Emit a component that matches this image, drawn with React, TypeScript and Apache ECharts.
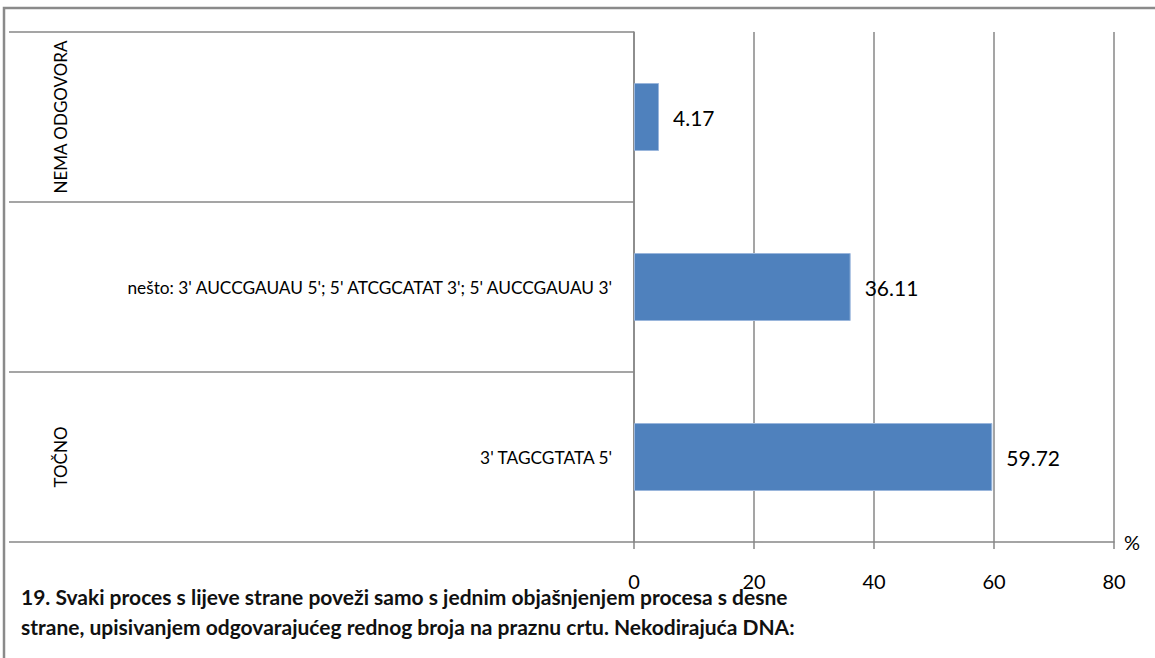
import React, { useEffect, useRef } from "react";
import * as echarts from "echarts";

const outerCategories = ["TOČNO", "KONCEPTUALNO\nNERAZUMIJEVANJE", "NEMA ODGOVORA"];
const innerLabels = ["3' TAGCGTATA 5'", "nešto: 3' AUCCGAUAU 5'; 5' ATCGCATAT 3'; 5' AUCCGAUAU 3'", ""];
const values = [59.72, 36.11, 4.17];
const xTicks = { min: 0, max: 80, interval: 20 };
const axisUnit = "%";
const footerLines = [
  "19. Svaki proces s lijeve strane poveži samo s jednim objašnjenjem procesa s desne",
  "strane, upisivanjem odgovarajućeg rednog broja na praznu crtu. Nekodirajuća DNA:",
];

const FONT = "Lato, 'Open Sans', sans-serif";
const GREY = "#878787";

export default function App() {
  const ref = useRef<HTMLDivElement>(null);
  useEffect(() => {
    if (!ref.current) return;
    const chart = echarts.init(ref.current, null, { renderer: "svg" });
    chart.setOption({
      animation: false,
      backgroundColor: "#ffffff",
      textStyle: { fontFamily: FONT },
      grid: { left: 634, right: 41, top: 32, bottom: 116, containLabel: false },
      xAxis: {
        type: "value",
        min: xTicks.min,
        max: xTicks.max,
        interval: xTicks.interval,
        name: axisUnit,
        nameLocation: "end",
        nameGap: 10,
        nameTextStyle: { fontSize: 20, color: "#000", fontFamily: FONT, padding: [12, 0, 0, 0] },
        axisLine: { show: true, lineStyle: { color: GREY, width: 1.5 } },
        axisTick: { show: true, length: 7, lineStyle: { color: GREY, width: 1.5 } },
        axisLabel: { fontSize: 20, color: "#000", fontFamily: FONT, margin: 29 },
        splitLine: { show: true, lineStyle: { color: GREY, width: 1.5 } },
      },
      yAxis: [
        {
          type: "category",
          data: innerLabels,
          position: "left",
          axisLine: { show: true, lineStyle: { color: GREY, width: 1.5 } },
          axisTick: { show: true, length: 625, lineStyle: { color: GREY, width: 1.5 } },
          axisLabel: { fontSize: 17.3, color: "#000", fontFamily: FONT, margin: 22 },
          splitLine: { show: false },
        },
        {
          type: "category",
          data: outerCategories,
          position: "left",
          offset: 554,
          axisLine: { show: false },
          axisTick: { show: false },
          axisLabel: {
            rotate: 90,
            fontSize: 17,
            lineHeight: 24,
            color: "#000",
            fontFamily: FONT,
            margin: 8,
          },
          splitLine: { show: false },
        },
      ],
      series: [
        {
          type: "bar",
          yAxisIndex: 0,
          data: values,
          barCategoryGap: "60%",
          itemStyle: { color: "#4F81BD", borderColor: "#9ab6dc", borderWidth: 1 },
          label: {
            show: true,
            position: "right",
            distance: 14,
            fontSize: 21,
            color: "#000",
            fontFamily: FONT,
            formatter: (p: any) => String(p.value),
          },
        },
      ],
      graphic: [
        {
          type: "rect",
          shape: { x: 4, y: 8, width: 1200, height: 700 },
          style: { fill: "none", stroke: "#8a8a8a", lineWidth: 2.5 },
          silent: true,
          z: 100,
        },
        {
          type: "text",
          left: 21,
          top: 581,
          style: {
            text: footerLines.join("\n"),
            font: `bold 21px ${FONT}`,
            lineHeight: 30,
            fill: "#111",
          },
          z: 100,
        },
      ],
    });
    return () => chart.dispose();
  }, []);
  return (
    <div
      ref={ref}
      style={{ position: "absolute", left: 0, top: 0, width: 1155, height: 658 }}
    />
  );
}
